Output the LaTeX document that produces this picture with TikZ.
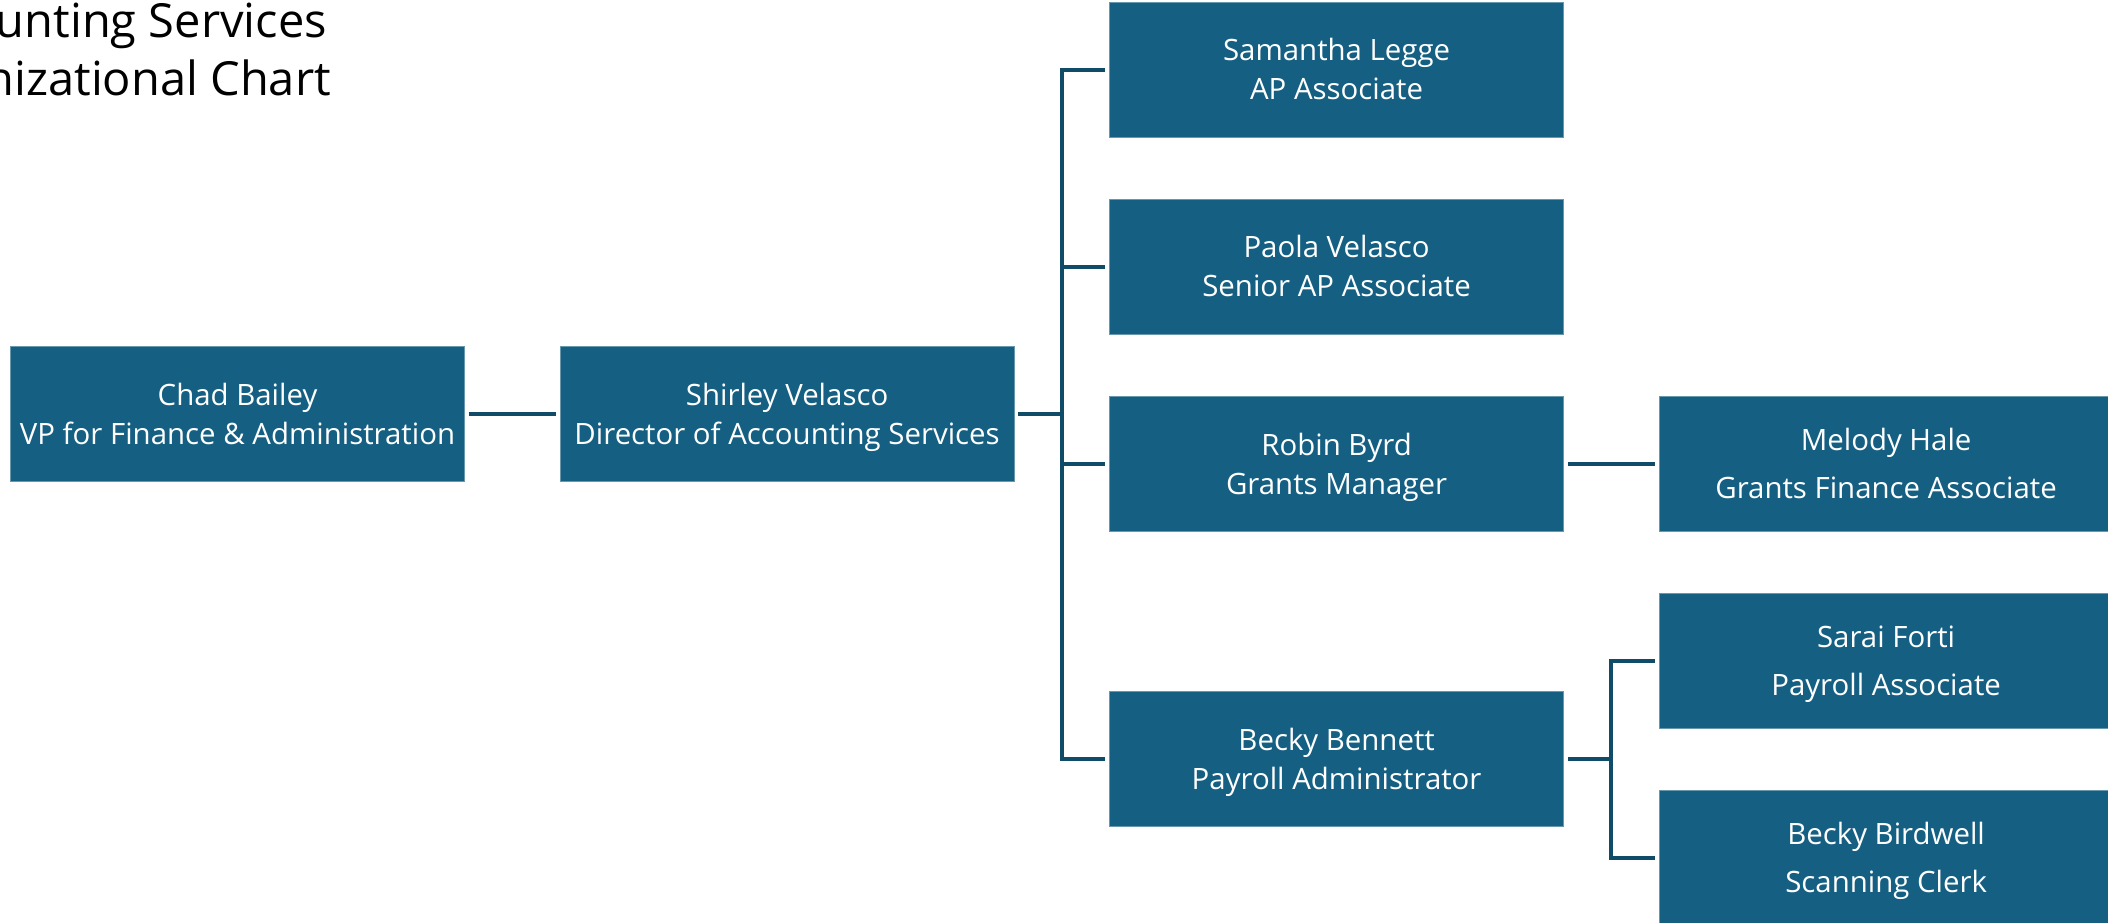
\documentclass[tikz,border=0pt]{standalone}
\usepackage{fontspec}
\setmainfont{Open Sans}
\definecolor{boxc}{HTML}{156082}
\definecolor{linec}{HTML}{104B68}
\newcommand{\lnstrut}{\rule[-0.286em]{0pt}{1.286em}}
\tikzset{
  pbox/.style={rectangle, fill=boxc, draw=boxc!65!white, line width=0.8pt,
    minimum width=453.6pt, minimum height=135pt, inner sep=0pt, align=center,
    text=white, font=\fontsize{29.4}{39}\selectfont},
  pboxw/.style={pbox, font=\fontsize{29.4}{48.5}\selectfont},
  conn/.style={draw=linec, line width=4pt},
  titletext/.style={inner sep=0pt, text=black, font=\fontsize{47}{56}\selectfont}
}
\begin{document}
\begin{tikzpicture}[x=1pt,y=-1pt]
\useasboundingbox (0,0) rectangle (2108,922);
\clip (0,0) rectangle (2108,922);
\fill[white] (0,0) rectangle (2108,922);
% title
\node[titletext, anchor=base east] (t1) at (327,37) {Accounting Services};
\node[titletext, anchor=base east] (t2) at (331,95) {Organizational Chart};
% boxes
\node[pbox] (chad) at (237.5,414.2) {\lnstrut Chad Bailey\\\lnstrut VP for Finance \& Administration};
\node[pbox] (shirley) at (787.1,414.2) {\lnstrut Shirley Velasco\\\lnstrut Director of Accounting Services};
\node[pbox] (samantha) at (1336.6,69.8) {\lnstrut Samantha Legge\\\lnstrut AP Associate};
\node[pbox] (paola) at (1336.6,266.8) {\lnstrut Paola Velasco\\\lnstrut Senior AP Associate};
\node[pbox] (robin) at (1336.6,464.2) {\lnstrut Robin Byrd\\\lnstrut Grants Manager};
\node[pbox] (bennett) at (1336.6,759.3) {\lnstrut Becky Bennett\\\lnstrut Payroll Administrator};
\node[pboxw] (melody) at (1886.1,464.2) {\lnstrut Melody Hale\\\lnstrut Grants Finance Associate};
\node[pboxw] (sarai) at (1886.1,660.8) {\lnstrut Sarai Forti\\\lnstrut Payroll Associate};
\node[pboxw] (birdwell) at (1886.1,858) {\lnstrut Becky Birdwell\\\lnstrut Scanning Clerk};
% bus coordinates
\coordinate (b1) at (1061.7,0);
\coordinate (b2) at (1611.3,0);
% connectors
\draw[conn] ([xshift=4pt]chad.east) -- ([xshift=-4pt]shirley.west);
\draw[conn] ([xshift=4pt]shirley.east) -- (b1 |- shirley.east);
\draw[conn] ([xshift=-4pt]samantha.west) -- (b1 |- samantha.west) -- (b1 |- bennett.west) -- ([xshift=-4pt]bennett.west);
\draw[conn] (b1 |- paola.west) -- ([xshift=-4pt]paola.west);
\draw[conn] (b1 |- robin.west) -- ([xshift=-4pt]robin.west);
\draw[conn] ([xshift=4pt]robin.east) -- ([xshift=-4pt]melody.west);
\draw[conn] ([xshift=4pt]bennett.east) -- (b2 |- bennett.east);
\draw[conn] ([xshift=-4pt]sarai.west) -- (b2 |- sarai.west) -- (b2 |- birdwell.west) -- ([xshift=-4pt]birdwell.west);
\end{tikzpicture}
\end{document}
